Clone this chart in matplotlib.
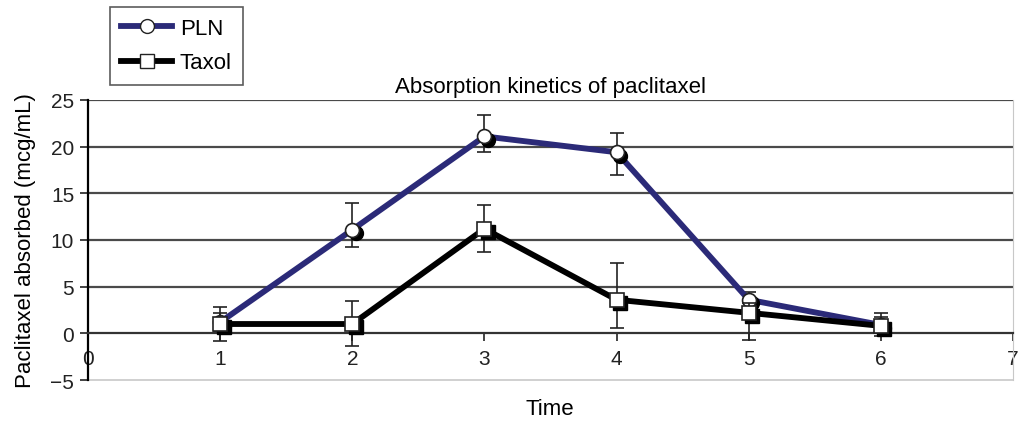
import matplotlib.pyplot as plt
import matplotlib.transforms as mtransforms
from matplotlib.lines import Line2D

plt.rcParams['font.family'] = ['Liberation Sans', 'DejaVu Sans']

time = [1, 2, 3, 4, 5, 6]
pln = [1.2, 11.1, 21.1, 19.4, 3.6, 0.9]
pln_err_lo = [1.0, 1.9, 1.7, 2.4, 1.0, 0.9]
pln_err_hi = [1.0, 2.9, 2.3, 2.1, 0.8, 1.3]
taxol = [1.0, 1.0, 11.2, 3.6, 2.2, 0.8]
taxol_err_lo = [1.8, 2.4, 2.5, 3.0, 2.9, 1.1]
taxol_err_hi = [1.8, 2.5, 2.6, 3.9, 1.0, 1.0]

pln_color = '#2b2a78'

fig = plt.figure(figsize=(10.19, 4.27), dpi=100)
ax = fig.add_axes([0.0864, 0.1077, 0.9077, 0.6558])

ax.set_xlim(0, 7)
ax.set_ylim(-5, 25)
ax.set_yticks(range(-5, 26, 5))
ax.set_yticklabels(['\u22125', '0', '5', '10', '15', '20', '25'])
ax.set_xticks(range(0, 8))

for y in range(5, 26, 5):
    ax.axhline(y, color='#4a4a4a', lw=1.6, zorder=1)
ax.axhline(-5, color='#c8c8c8', lw=1.2, zorder=1, clip_on=False)

ax.spines['bottom'].set_position(('data', 0))
ax.spines['bottom'].set_color('#333333')
ax.spines['bottom'].set_linewidth(1.6)
ax.spines['left'].set_linewidth(1.6)
ax.spines['top'].set_visible(False)
ax.spines['right'].set_color('#c8c8c8')
ax.spines['right'].set_bounds(-5, 25)
ax.tick_params(axis='both', labelsize=15, length=6, width=1.2, direction='out', colors='#222222')
ax.tick_params(axis='x', pad=5)
ax.tick_params(axis='y', pad=4)

shadow = mtransforms.offset_copy(ax.transData, fig=fig, x=2.5, y=-2.5, units='points')

def draw_series(y, lo, hi, color, marker, z):
    ax.errorbar(time, y, yerr=[lo, hi], fmt='none', ecolor='#222222', elinewidth=1.2,
                capsize=5, capthick=1.2, zorder=z)
    ax.plot(time, y, color=color, lw=4.2, zorder=z + 1)
    ax.plot(time, y, linestyle='none', marker=marker, markersize=10, color='black',
            transform=shadow, zorder=z + 1)
    ax.plot(time, y, linestyle='none', marker=marker, markersize=10,
            markerfacecolor='white', markeredgecolor='#222222', markeredgewidth=1.2, zorder=z + 2)

draw_series(pln, pln_err_lo, pln_err_hi, pln_color, 'o', 3)
draw_series(taxol, taxol_err_lo, taxol_err_hi, 'black', 's', 6)

ax.set_title('Absorption kinetics of paclitaxel', fontsize=16, pad=6)
ax.set_ylabel('Paclitaxel absorbed (mcg/mL)', fontsize=16, labelpad=10)
fig.text(550 / 1019, 1 - 410 / 427, 'Time', fontsize=16, ha='center', va='center')

handles = [
    Line2D([], [], color=pln_color, lw=4.2, marker='o', markersize=10,
           markerfacecolor='white', markeredgecolor='#222222'),
    Line2D([], [], color='black', lw=4.2, marker='s', markersize=10,
           markerfacecolor='white', markeredgecolor='#222222'),
]
leg = fig.legend(handles, ['PLN', 'Taxol'], loc='upper left',
                 bbox_to_anchor=(110 / 1019, 1 - 8 / 427), borderaxespad=0, fontsize=16,
                 frameon=True, fancybox=False, edgecolor='#333333',
                 handlelength=2.3, handletextpad=0.35, borderpad=0.5, labelspacing=0.6)
leg.get_frame().set_linewidth(1.2)

fig.savefig('out.png', dpi=100)
